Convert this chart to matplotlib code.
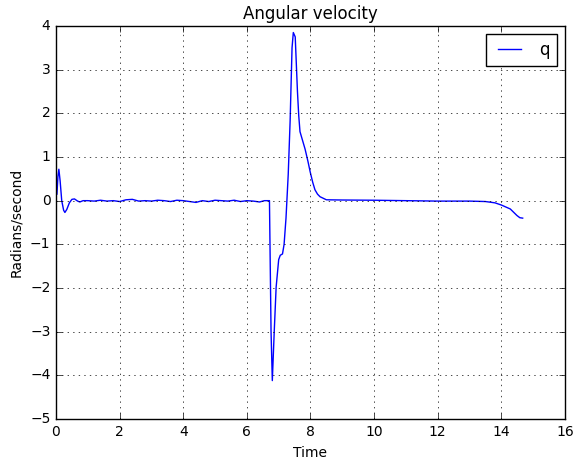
import numpy as np
import matplotlib
matplotlib.use("Agg")
import matplotlib.pyplot as plt

# time samples [s] and pitch rate q [rad/s]
time_s = [0.03, 0.06, 0.09, 0.13, 0.18, 0.24, 0.28, 0.34, 0.42, 0.5,
          0.58, 0.68, 0.75, 0.85,
          1.0, 1.2, 1.4, 1.6, 1.8, 2.0, 2.2, 2.4, 2.6, 2.8,
          3.0, 3.2, 3.4, 3.6, 3.8, 4.0, 4.2, 4.4, 4.6, 4.8,
          5.0, 5.2, 5.4, 5.6, 5.8, 6.0, 6.2, 6.4, 6.55, 6.71,
          6.76, 6.80, 6.86, 6.92, 7.0, 7.05, 7.12, 7.17, 7.23, 7.3,
          7.36, 7.42, 7.46, 7.52, 7.59, 7.63, 7.67, 7.75, 7.83, 7.92,
          7.99, 8.07, 8.14, 8.22, 8.3, 8.5, 9.0, 10.0, 11.0, 12.0, 13.0,
          13.5, 13.8, 14.0, 14.28, 14.49, 14.58, 14.67]
q = [0.15, 0.55, 0.72, 0.45, 0.0, -0.22, -0.27, -0.2, -0.05, 0.03,
     0.04, -0.01, -0.03, 0.0,
     0.0, -0.01, 0.01, -0.01, 0.0, -0.02, 0.02, 0.03, -0.01, 0.0,
     -0.01, 0.01, 0.0, -0.02, 0.01, 0.0, -0.02, -0.04, 0.0, -0.02,
     0.01, 0.0, -0.01, 0.01, -0.02, 0.0, -0.01, -0.03, 0.0, 0.0,
     -3.0, -4.12, -3.0, -1.98, -1.35, -1.25, -1.22, -1.0, -0.40, 0.6,
     1.83, 3.5, 3.85, 3.75, 2.5, 1.95, 1.58, 1.38, 1.18, 0.9,
     0.66, 0.42, 0.25, 0.15, 0.09, 0.02, 0.015, 0.01, 0.0, -0.01, -0.01,
     -0.02, -0.05, -0.1, -0.19, -0.34, -0.39, -0.40]

plt.style.use("classic")
plt.rcParams["font.size"] = 10

fig = plt.figure(figsize=(5.87, 4.59), dpi=100)
ax = fig.add_axes([0.0954, 0.0871, 0.8671, 0.8563])
ax.plot(time_s, q, color="b", linewidth=1.0, label="q")
ax.set_xlim(0, 16)
ax.set_ylim(-5, 4)
ax.set_title("Angular velocity")
ax.set_xlabel("Time")
ax.set_ylabel("Radians/second")
ax.grid(True)
ax.legend(loc="upper right")

fig.savefig("out.png", dpi=100)
